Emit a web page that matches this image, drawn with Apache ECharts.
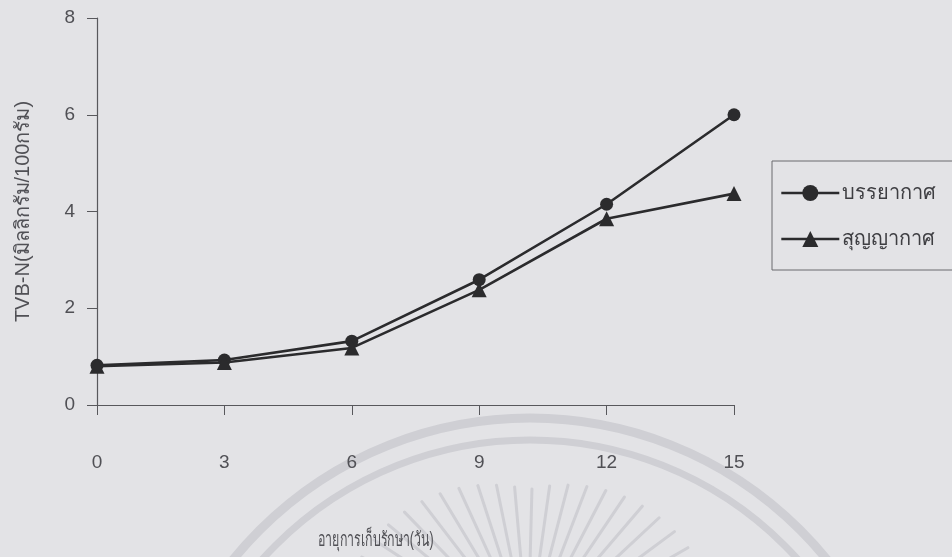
<!DOCTYPE html>
<html>
<head>
<meta charset="utf-8">
<script src="https://cdn.jsdelivr.net/npm/echarts@6/dist/echarts.min.js"></script>
<style>
  html, body { margin: 0; padding: 0; background: #e3e3e6; }
  #chart { width: 952px; height: 557px; }
</style>
</head>
<body>
<div id="chart"></div>
<script>
// Storage time (days) and TVB-N content (mg/100 g) for two packaging conditions
const days = [0, 3, 6, 9, 12, 15];
const airValues = [0.82, 0.93, 1.32, 2.59, 4.15, 6.0];      // บรรยากาศ
const vacuumValues = [0.80, 0.88, 1.18, 2.38, 3.85, 4.37];  // สุญญากาศ
const seriesNames = ['บรรยากาศ', 'สุญญากาศ'];
const xTicks = [0, 3, 6, 9, 12, 15];
const yTicks = [0, 2, 4, 6, 8];

const FONT = '"Liberation Sans", Arial, "DejaVu Sans", sans-serif';
const INK = '#2b2b2d';
const TEXT = '#505055';
const SEAL = '#cfcfd4';

function pairs(xs, ys) { return xs.map((x, i) => [x, ys[i]]); }

// faint circular seal printed behind the chart
const seal = [];
const cx = 530, cy = 800;
seal.push({ type: 'arc', shape: { cx: cx, cy: cy, r: 382, startAngle: Math.PI, endAngle: 2 * Math.PI },
  style: { stroke: SEAL, lineWidth: 9, fill: null }, z: -10, silent: true });
seal.push({ type: 'arc', shape: { cx: cx, cy: cy, r: 360, startAngle: Math.PI, endAngle: 2 * Math.PI },
  style: { stroke: SEAL, lineWidth: 7, fill: null }, z: -10, silent: true });
const rayCx = 528, rayCy = 640;
for (let a = 200; a <= 340; a += 6.5) {
  const t = a * Math.PI / 180;
  const r0 = 70, r1 = 150 + 40 * Math.abs(Math.cos(t));
  seal.push({ type: 'line', shape: {
      x1: rayCx + r0 * Math.cos(t), y1: rayCy + r0 * Math.sin(t),
      x2: rayCx + r1 * Math.cos(t), y2: rayCy + r1 * Math.sin(t) },
    style: { stroke: SEAL, lineWidth: 3, lineCap: 'round' }, z: -10, silent: true });
}

const chart = echarts.init(document.getElementById('chart'), null, { renderer: 'canvas' });
chart.setOption({
  backgroundColor: '#e3e3e6',
  animation: false,
  textStyle: { fontFamily: FONT },
  grid: { left: 97, right: 218, top: 18, bottom: 152 },
  legend: {
    orient: 'vertical',
    left: 772, top: 161,
    data: seriesNames,
    itemWidth: 58, itemHeight: 20, itemGap: 26,
    padding: [22, 40, 21, 8],
    borderColor: '#6a6a6e', borderWidth: 1,
    lineStyle: { width: 2.6 },
    textStyle: { fontFamily: FONT, fontSize: 20, color: '#3e3e42', padding: [0, 0, 0, -2] }
  },
  xAxis: {
    type: 'value', min: 0, max: 15, interval: 3,
    axisLine: { onZero: false, lineStyle: { color: '#58585c', width: 1.2 } },
    axisTick: { length: 10, lineStyle: { color: '#58585c' } },
    splitLine: { show: false },
    axisLabel: { margin: 48, fontSize: 19, color: TEXT, fontFamily: FONT,
      formatter: v => xTicks.includes(v) ? String(v) : '' }
  },
  yAxis: {
    type: 'value', min: 0, max: 8, interval: 2,
    name: 'TVB-N(มิลลิกรัม/100กรัม)',
    nameLocation: 'middle', nameGap: 64, nameRotate: 90,
    nameTextStyle: { fontSize: 20, color: TEXT, fontFamily: FONT },
    axisLine: { show: true, lineStyle: { color: '#58585c', width: 1.2 } },
    axisTick: { show: true, length: 10, lineStyle: { color: '#58585c' } },
    splitLine: { show: false },
    axisLabel: { margin: 22, fontSize: 19, color: TEXT, fontFamily: FONT,
      formatter: v => yTicks.includes(v) ? String(v) : '' }
  },
  graphic: seal.concat([{
    type: 'text', x: 318, y: 530, scaleX: 0.62,
    style: { text: 'อายุการเก็บรักษา(วัน)', fontSize: 20, fill: TEXT, fontFamily: FONT }
  }]),
  series: [
    {
      name: seriesNames[0], type: 'line', data: pairs(days, airValues),
      symbol: 'circle', symbolSize: 13,
      lineStyle: { color: INK, width: 2.6 },
      itemStyle: { color: INK }
    },
    {
      name: seriesNames[1], type: 'line', data: pairs(days, vacuumValues),
      symbol: 'triangle', symbolSize: 15,
      lineStyle: { color: INK, width: 2.6 },
      itemStyle: { color: INK }
    }
  ]
});
</script>
</body>
</html>
